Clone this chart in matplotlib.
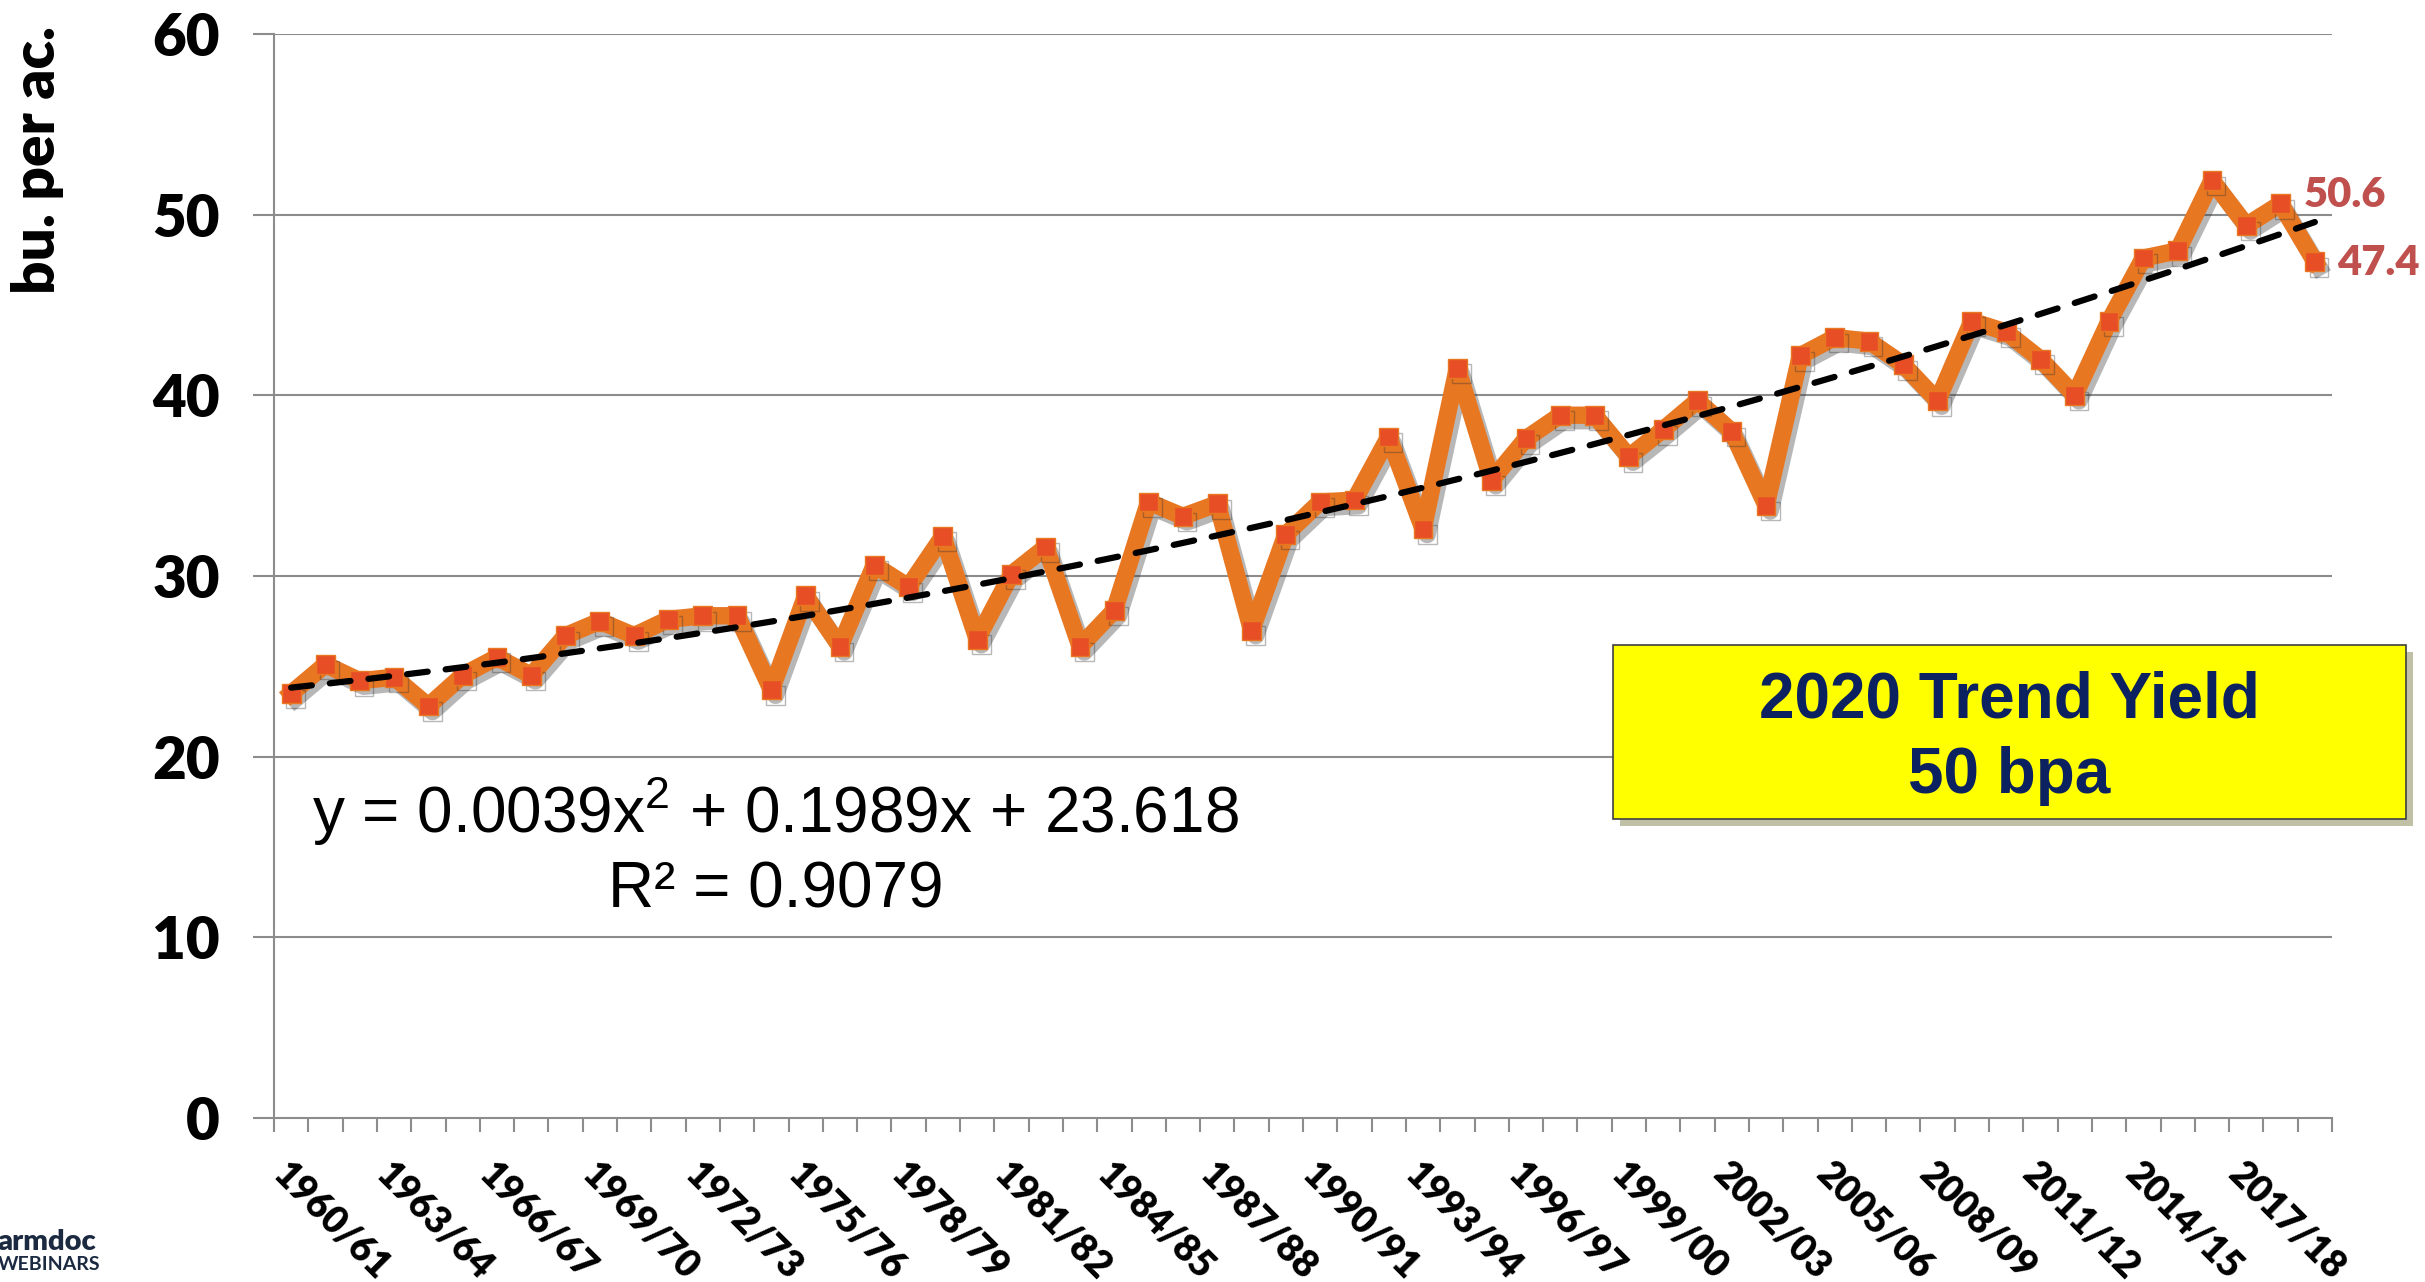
import numpy as np
import matplotlib.pyplot as plt
import matplotlib.patheffects as pe
from matplotlib.patches import Rectangle

plt.rcParams['lines.scale_dashes'] = False

# marketing years 1960/61 .. 2019/20
years = [f"{y}/{str(y + 1)[-2:]}" for y in range(1960, 2020)]
yields = [23.5, 25.1, 24.2, 24.4, 22.8, 24.5, 25.5, 24.5, 26.7, 27.5,
          26.7, 27.6, 27.8, 27.8, 23.7, 28.9, 26.1, 30.6, 29.4, 32.2,
          26.5, 30.1, 31.6, 26.1, 28.1, 34.1, 33.3, 34.0, 27.0, 32.3,
          34.1, 34.2, 37.7, 32.6, 41.5, 35.3, 37.6, 38.9, 38.9, 36.6,
          38.1, 39.7, 38.0, 33.9, 42.2, 43.2, 43.0, 41.7, 39.7, 44.1,
          43.5, 42.0, 40.0, 44.1, 47.6, 48.0, 51.9, 49.4, 50.6, 47.4]
trend_coef = [0.0039, 0.1989, 23.618]   # quadratic trend shown on chart
r2 = 0.9079
box_lines = ["2020 Trend Yield", "50 bpa"]

W, H = 2425, 1282
fig = plt.figure(figsize=(W / 100, H / 100), dpi=100)
def px(x, y):
    return x / W, 1 - y / H

ax = fig.add_axes([274 / W, 1 - 1118 / H, (2332 - 274) / W, (1118 - 34) / H])

x = np.arange(1, len(yields) + 1)
grid_c = '#8C8C8C'
for v in range(10, 61, 10):
    ax.axhline(v, color=grid_c, lw=1.5, zorder=1)

ax.plot(x, yields, color='#E87722', lw=12.5, marker='s', ms=13.5,
        mfc='#E84E26', mec='#E87722', mew=1, zorder=3,
        path_effects=[pe.SimpleLineShadow(offset=(3, -4), shadow_color='#333333', alpha=0.35),
                      pe.Normal()])

trend = np.polyval(trend_coef, x)
ax.plot(x, trend, color='black', lw=4.5, dashes=(15, 13), dash_capstyle='round', zorder=4)

ax.set_xlim(0.5, len(yields) + 0.5)
ax.set_ylim(0, 60)
for s in ['top', 'right']:
    ax.spines[s].set_visible(False)
for s in ['left', 'bottom']:
    ax.spines[s].set_color(grid_c)
    ax.spines[s].set_linewidth(1.5)

ax.set_yticks(range(0, 61, 10))
ax.set_yticklabels([str(v) for v in range(0, 61, 10)], fontsize=42,
                   fontweight='heavy', family='Lato')
ax.tick_params(axis='y', length=15, width=1.5, color=grid_c, pad=24)

ax.set_xticks(x[::3])
ax.set_xticklabels(years[::3], fontsize=27, fontweight='heavy', family='Lato',
                   rotation=-45, ha='left', va='top', rotation_mode='anchor')
ax.set_xticks(np.arange(0.5, len(yields) + 1), minor=True)
ax.tick_params(axis='x', which='major', length=0, pad=28)
ax.tick_params(axis='x', which='minor', length=10, width=1.5, color=grid_c)

# data labels for the last two years
ax.annotate(f"{yields[-2]:.1f}", (x[-2], yields[-2]), xytext=(17, 6),
            textcoords='offset points', ha='left', va='center',
            fontsize=30, fontweight='heavy', family='Lato', color='#C0504D')
ax.annotate(f"{yields[-1]:.1f}", (x[-1], yields[-1]), xytext=(16, -1),
            textcoords='offset points', ha='left', va='center',
            fontsize=30, fontweight='heavy', family='Lato', color='#C0504D')

fig.text(*px(38, 160), "bu. per ac.", rotation=90, ha='center', va='center',
         fontsize=42, fontweight='heavy', family='Lato')

eq = (f"y = {trend_coef[0]}x$^{{\\mathregular{{2}}}}$ + {trend_coef[1]}x + {trend_coef[2]}")
fig.text(*px(775, 833), eq, ha='center', va='baseline', fontsize=46,
         family='Liberation Sans')
fig.text(*px(776, 907), f"R² = {r2}", ha='center', va='baseline', fontsize=46,
         family='Liberation Sans')

bx0, by0, bx1, by1 = 1613, 645, 2406, 819
rect = Rectangle(px(bx0, by1), (bx1 - bx0) / W, (by1 - by0) / H,
                 transform=fig.transFigure, facecolor='#FFFF00', edgecolor='#404040',
                 lw=1.2, zorder=5,
                 path_effects=[pe.SimplePatchShadow(offset=(5, -5), alpha=0.35), pe.Normal()])
fig.patches.append(rect)
fig.text(*px((bx0 + bx1) / 2, 717), box_lines[0], ha='center', va='baseline',
         fontsize=46, fontweight='bold', family='Liberation Sans', color='#0B2160', zorder=6)
fig.text(*px((bx0 + bx1) / 2, 793), box_lines[1], ha='center', va='baseline',
         fontsize=46, fontweight='bold', family='Liberation Sans', color='#0B2160', zorder=6)

# logo fragment bottom-left
fig.text(*px(-2, 1250), "armdoc", ha='left', va='baseline', fontsize=21,
         fontweight='heavy', family='Lato', color='#1B2A41')
fig.text(*px(-2, 1270), "WEBINARS", ha='left', va='baseline', fontsize=14,
         fontweight='bold', family='Lato', color='#1B2A41')

fig.savefig('out.png', dpi=100)
